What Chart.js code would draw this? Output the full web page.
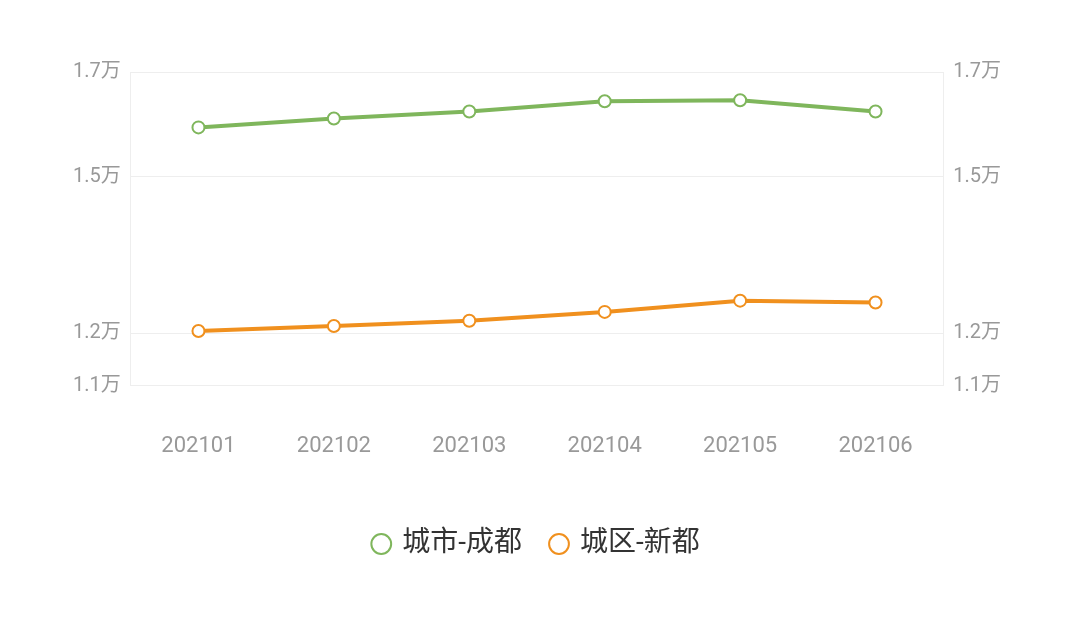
<!DOCTYPE html><html><head><meta charset="utf-8">
<script src="https://cdn.jsdelivr.net/npm/chart.js@4"></script>
<style>body{margin:0;background:#fff}#w{width:1080px;height:620px}</style></head><body><div id="w"><canvas id="c"></canvas></div>
<script>
const categories=['202101','202102','202103','202104','202105','202106'];
const chengdu=[15940,16110,16245,16440,16460,16245];
const xindu=[12045,12140,12240,12410,12625,12590];
const tickValues=[11000,12000,15000,17000];
const fmt=v=>(v/10000).toFixed(1)+'万';
const F="Roboto,'Noto Sans CJK SC',sans-serif";
const yAxis=(pos)=>({position:pos,min:11000,max:17000,
 afterBuildTicks:a=>{a.ticks=tickValues.map(v=>({value:v}));},
 ticks:{callback:fmt,color:'#999',font:{size:20,family:F},padding:10},
 grid:{color:'#eee',drawTicks:false,display:pos==='left'},border:{color:'#eee'}});
new Chart(document.getElementById('c'),{type:'line',
data:{labels:categories,datasets:[
{label:'城市-成都',data:chengdu,borderColor:'#7fb65c',backgroundColor:'#fff',borderWidth:4,pointRadius:6,pointBorderWidth:2,yAxisID:'y'},
{label:'城区-新都',data:xindu,borderColor:'#f0901e',backgroundColor:'#fff',borderWidth:4,pointRadius:6,pointBorderWidth:2,yAxisID:'y'}]},
options:{responsive:true,maintainAspectRatio:false,animation:false,
layout:{padding:{left:63,right:69,top:72,bottom:52}},
plugins:{tooltip:{enabled:false},legend:{position:'bottom',labels:{usePointStyle:true,pointStyle:'circle',boxWidth:14,boxHeight:14,padding:30,color:'#333',font:{size:28,family:F}}}},
scales:{x:{offset:true,grid:{display:false},border:{color:'#eee'},ticks:{color:'#999',font:{size:22,family:F},padding:40}},
y:yAxis('left'),y2:yAxis('right')}}});
</script></body></html>
